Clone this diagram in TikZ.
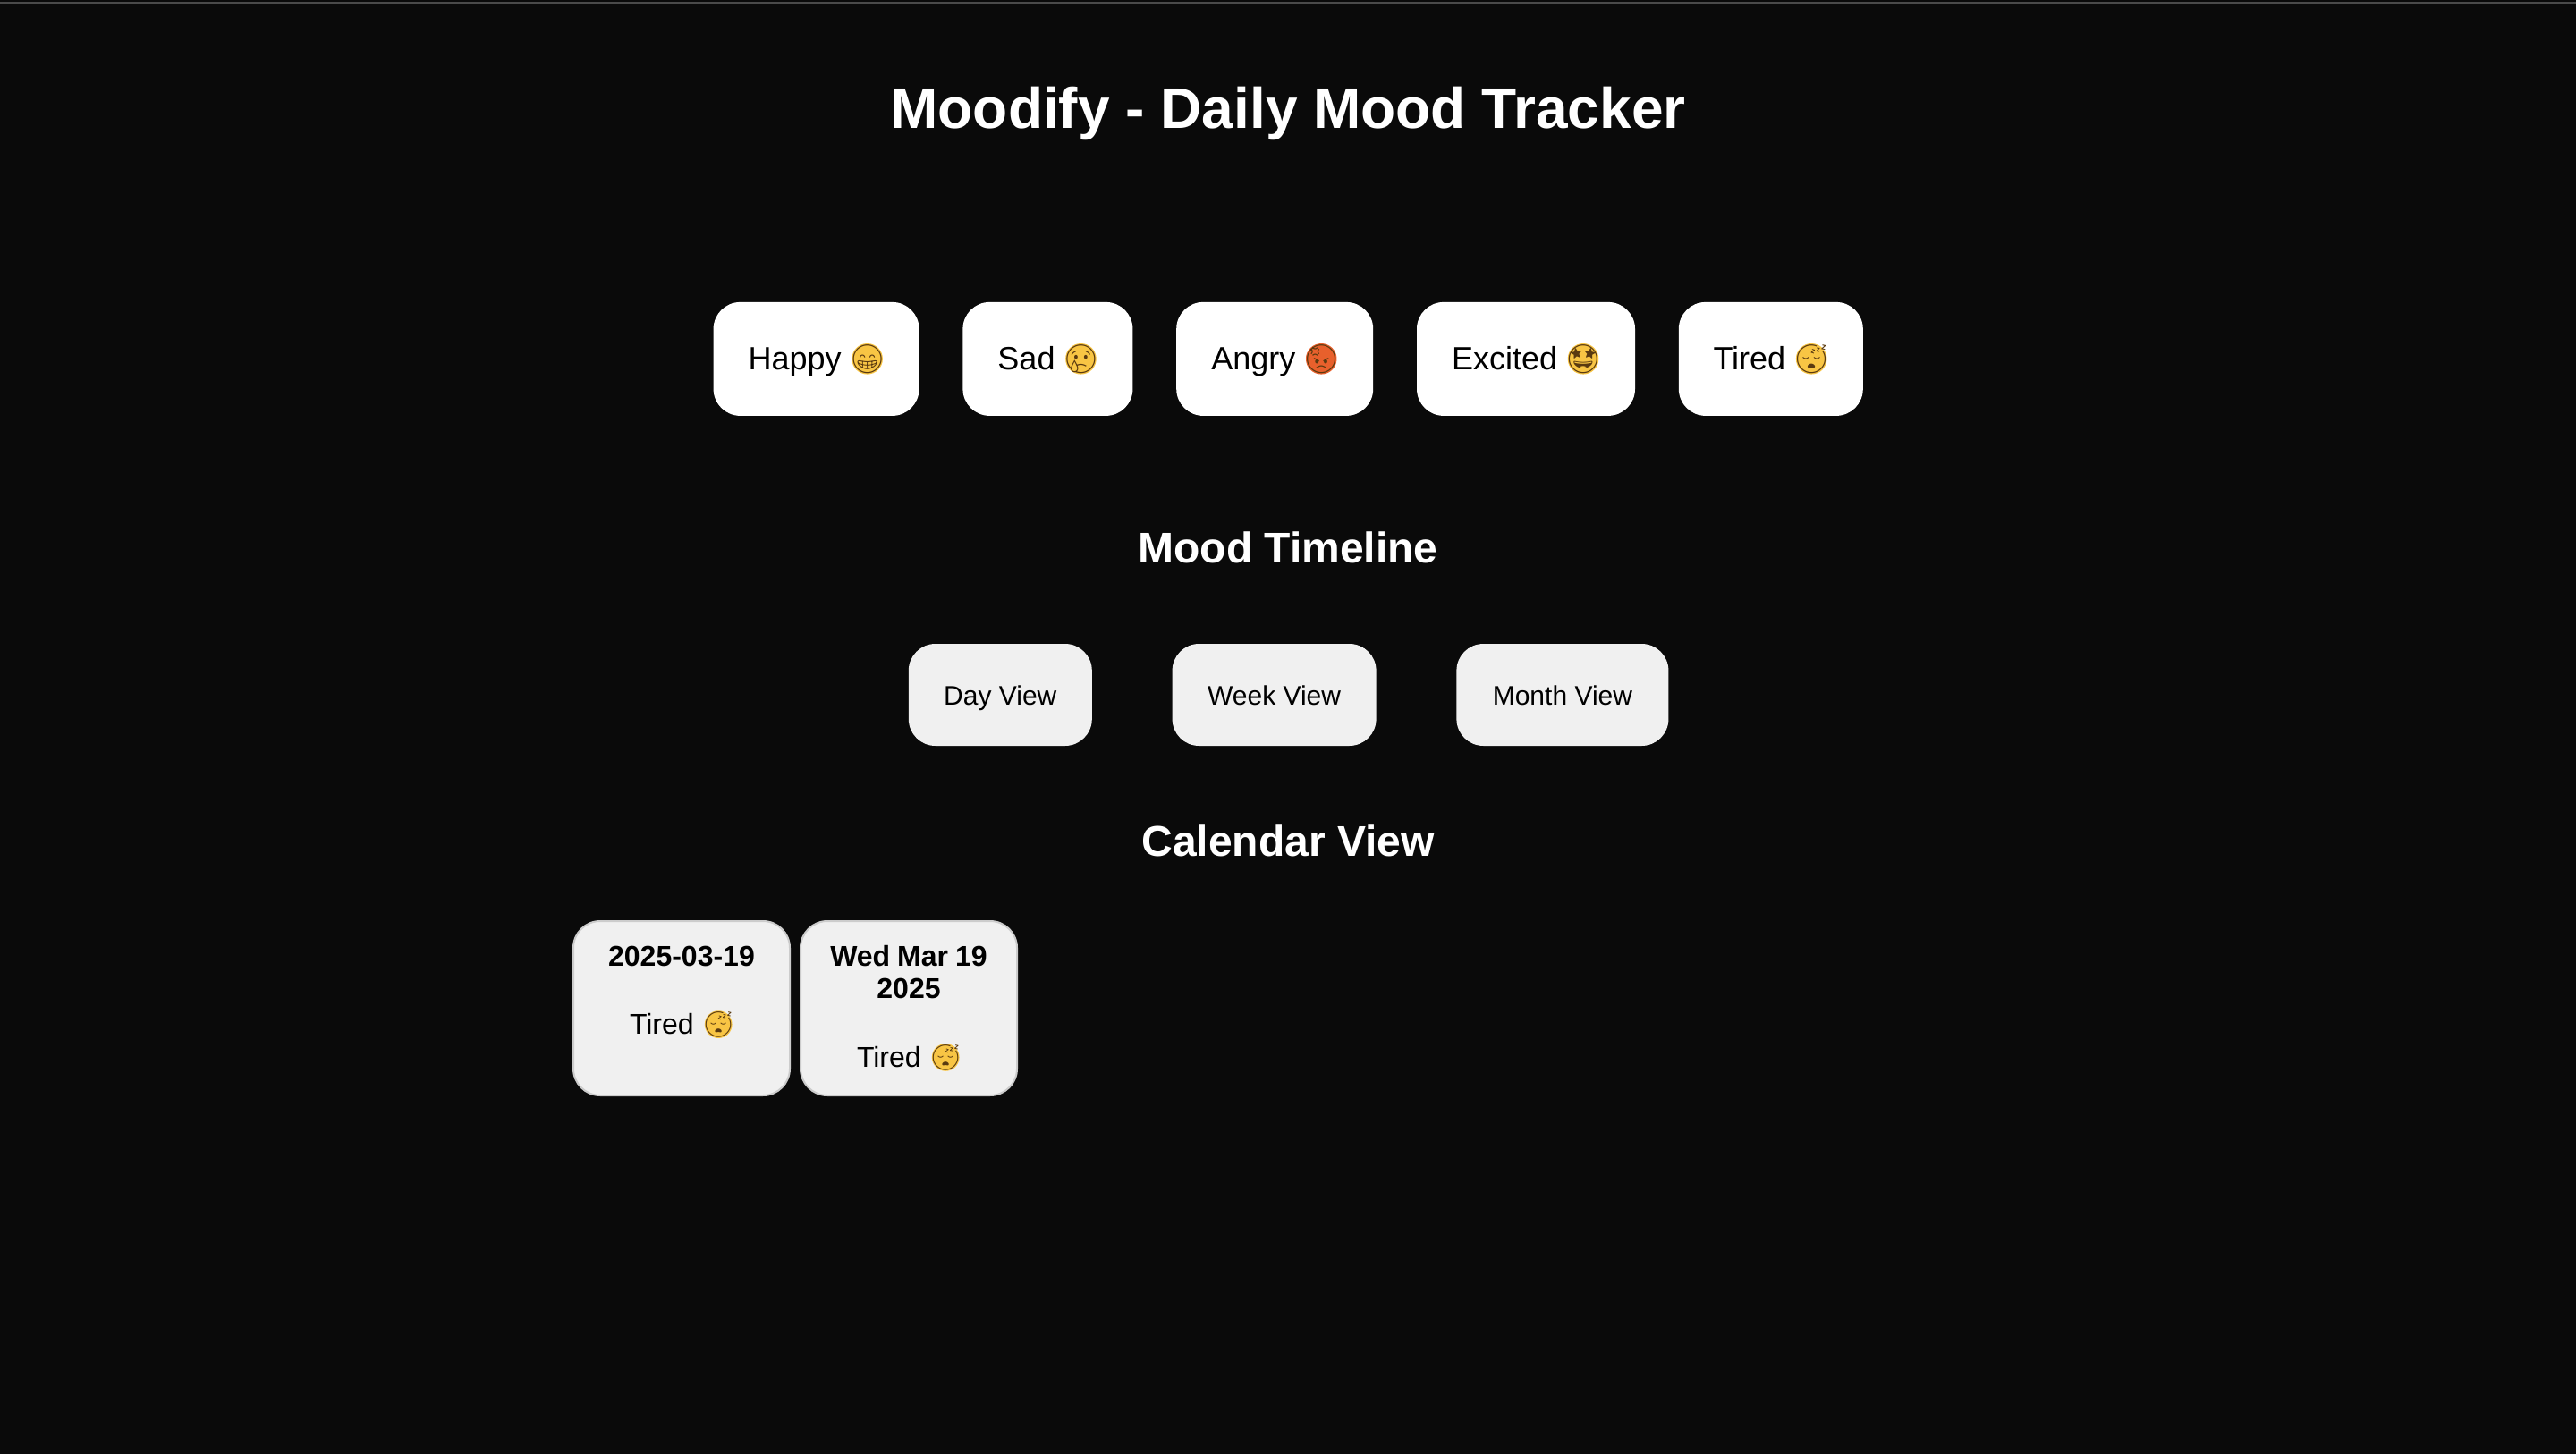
\documentclass[tikz,border=0pt]{standalone}
\usepackage{fontspec}
\setmainfont{Liberation Sans}
\newfontfamily\emojifont[Scale=0.88]{Noto Emoji}
\usetikzlibrary{positioning}
\definecolor{pagebg}{HTML}{0A0A0A}
\definecolor{topline}{HTML}{4A4A4A}
\definecolor{viewbg}{HTML}{F0F0F0}
\definecolor{cardline}{HTML}{CCCCCC}
\definecolor{faceyellow}{HTML}{F8C544}
\definecolor{facered}{HTML}{E8602C}
\definecolor{faceline}{HTML}{5A3A10}
\newcommand{\moodface}[2]{\makebox[1.05em][c]{\makebox[0pt][c]{\raisebox{-.13em}{\tikz\fill[#1] (0,0) circle (.48em);}}\makebox[0pt][c]{\raisebox{.05em}{\emojifont\textcolor{faceline}{#2}}}}}
\newcommand{\daytitle}[1]{\textbf{\spaceskip=.25em #1}}

\begin{document}
\begin{tikzpicture}[
    x=1pt, y=-1pt,
    heading/.style={text=white, font=\bfseries\fontsize{24}{28}\selectfont},
    moodbtn/.style={rectangle, fill=white, rounded corners=15pt, inner sep=0pt, align=center,
                    text height=38pt, text depth=25.5pt, font=\fontsize{18}{22}\selectfont},
    viewbtn/.style={rectangle, fill=viewbg, rounded corners=15pt, inner sep=0pt, align=center,
                    text height=34pt, text depth=23pt, font=\fontsize{15}{18}\selectfont},
    daycard/.style={rectangle, draw=cardline, line width=1pt, fill=viewbg, rounded corners=15pt,
                    inner sep=0pt, outer sep=0pt, text width=121pt, align=center,
                    text height=25pt, text depth=72.5pt, font=\fontsize{16}{18.4}\selectfont}
  ]
  \fill [pagebg] (0,0) rectangle (1440,813);
  \useasboundingbox (0,0) rectangle (1440,813);
  \coordinate (lineL) at (0,1.5);
  \coordinate (lineR) at (1440,1.5);
  \draw [topline, line width=1pt] (lineL) -- (lineR);

  \node (title) at (720,63.5) [text=white, font=\bfseries\fontsize{32}{38}\selectfont] {Moodify - Daily Mood Tracker};

  \node (happy)   at (398.6,200.7) [moodbtn, anchor=west, minimum width=115pt] {Happy \moodface{faceyellow}{😁}};
  \node (sad)     [moodbtn, minimum width=95pt, right=24pt of happy]   {Sad \moodface{faceyellow}{😢}};
  \node (angry)   [moodbtn, minimum width=110pt, right=24pt of sad]    {Angry \moodface{facered}{😡}};
  \node (excited) [moodbtn, minimum width=122pt, right=24pt of angry]  {Excited \moodface{faceyellow}{🤩}};
  \node (tired)   [moodbtn, minimum width=103pt, right=24pt of excited] {Tired \moodface{faceyellow}{😴}};

  \node (timeline) at (720,306) [heading] {Mood Timeline};

  \node (dayview)   at (507.7,388.5) [viewbtn, anchor=west, minimum width=102.5pt] {Day View};
  \node (weekview)  [viewbtn, minimum width=114pt, right=44.5pt of dayview]    {Week View};
  \node (monthview) [viewbtn, minimum width=118.5pt, right=44.5pt of weekview] {Month View};

  \node (calendar) at (720,470) [heading] {Calendar View};

  \node (cardone) at (320.5,515) [daycard, anchor=north west] {\daytitle{2025-03-19}\\[20pt]Tired \moodface{faceyellow}{😴}};
  \node (cardtwo) [daycard, right=6pt of cardone] {\daytitle{Wed Mar 19}\\\daytitle{2025}\\[20pt]Tired \moodface{faceyellow}{😴}};
\end{tikzpicture}
\end{document}
